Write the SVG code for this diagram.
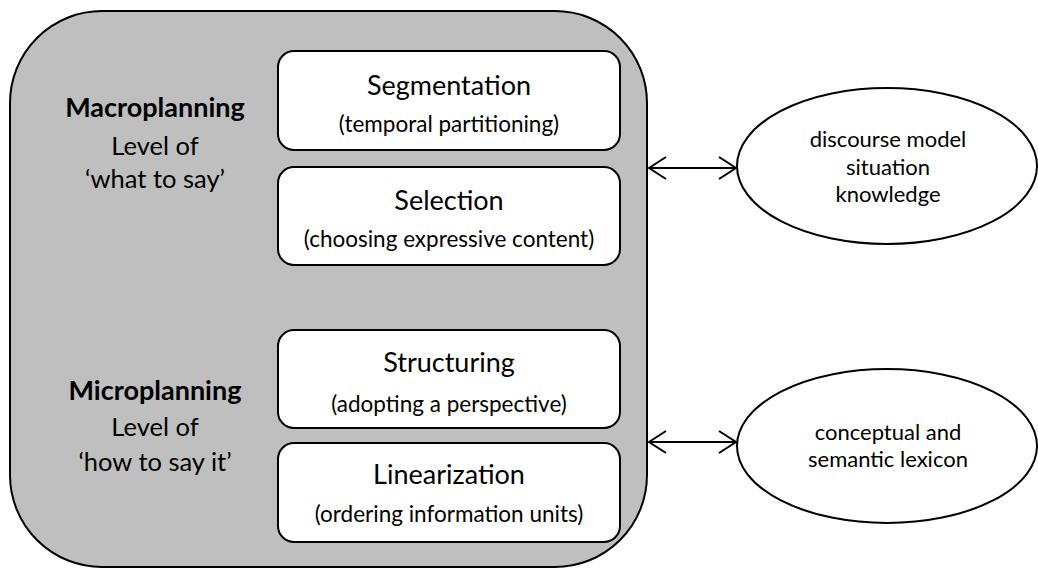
<svg xmlns="http://www.w3.org/2000/svg" width="1038" height="569" viewBox="0 0 1038 569">
<style>
text{font-family:Lato,"Open Sans","Liberation Sans",sans-serif;fill:#000;text-anchor:middle}
.t{font-size:27px}
.l{font-size:25.5px}
.s{font-size:22.5px}
.b{font-size:27px;font-weight:bold}
.e{font-size:22px}
.box{fill:#fff;stroke:#000;stroke-width:2}
.con{stroke:#000;stroke-width:2;fill:none}
</style>
<defs>
<marker id="ah" markerWidth="20" markerHeight="24" refX="18" refY="12" orient="auto-start-reverse" markerUnits="userSpaceOnUse">
<path d="M1,1 L18,12 L1,23" fill="none" stroke="#000" stroke-width="2"/>
</marker>
</defs>
<g id="container">
<rect x="10" y="11" width="637" height="556" rx="92" ry="92" fill="#bfbfbf" stroke="#000" stroke-width="2"/>
<text class="b" x="155" y="117">Macroplanning</text>
<text class="l" x="155" y="155">Level of</text>
<text class="l" x="155" y="188">‘what to say’</text>
<text class="b" x="155" y="400">Microplanning</text>
<text class="l" x="155" y="436">Level of</text>
<text class="l" x="155" y="471">‘how to say it’</text>
</g>
<g id="segmentation">
<rect class="box" x="278" y="51" width="342" height="99" rx="16"/>
<text class="t" x="449" y="95">Segmentation</text>
<text class="s" x="449" y="132">(temporal partitioning)</text>
</g>
<g id="selection">
<rect class="box" x="278" y="167" width="342" height="98" rx="16"/>
<text class="t" x="449" y="210">Selection</text>
<text class="s" x="449" y="247">(choosing expressive content)</text>
</g>
<g id="structuring">
<rect class="box" x="278" y="330" width="342" height="98" rx="16"/>
<text class="t" x="449" y="372">Structuring</text>
<text class="s" x="449" y="412">(adopting a perspective)</text>
</g>
<g id="linearization">
<rect class="box" x="278" y="443" width="342" height="99" rx="16"/>
<text class="t" x="449" y="484">Linearization</text>
<text class="s" x="449" y="522">(ordering information units)</text>
</g>
<g id="discourse">
<ellipse class="box" cx="887" cy="166" rx="150" ry="78"/>
<text class="e" x="888" y="147">discourse model</text>
<text class="e" x="888" y="175">situation</text>
<text class="e" x="888" y="202">knowledge</text>
</g>
<g id="lexicon">
<ellipse class="box" cx="887" cy="446" rx="150" ry="77"/>
<text class="e" x="888" y="440">conceptual and</text>
<text class="e" x="888" y="467">semantic lexicon</text>
</g>
<g id="connectors">
<line class="con" x1="649" y1="168" x2="736" y2="168" marker-start="url(#ah)" marker-end="url(#ah)"/>
<line class="con" x1="649" y1="442" x2="736" y2="442" marker-start="url(#ah)" marker-end="url(#ah)"/>
</g>
</svg>
